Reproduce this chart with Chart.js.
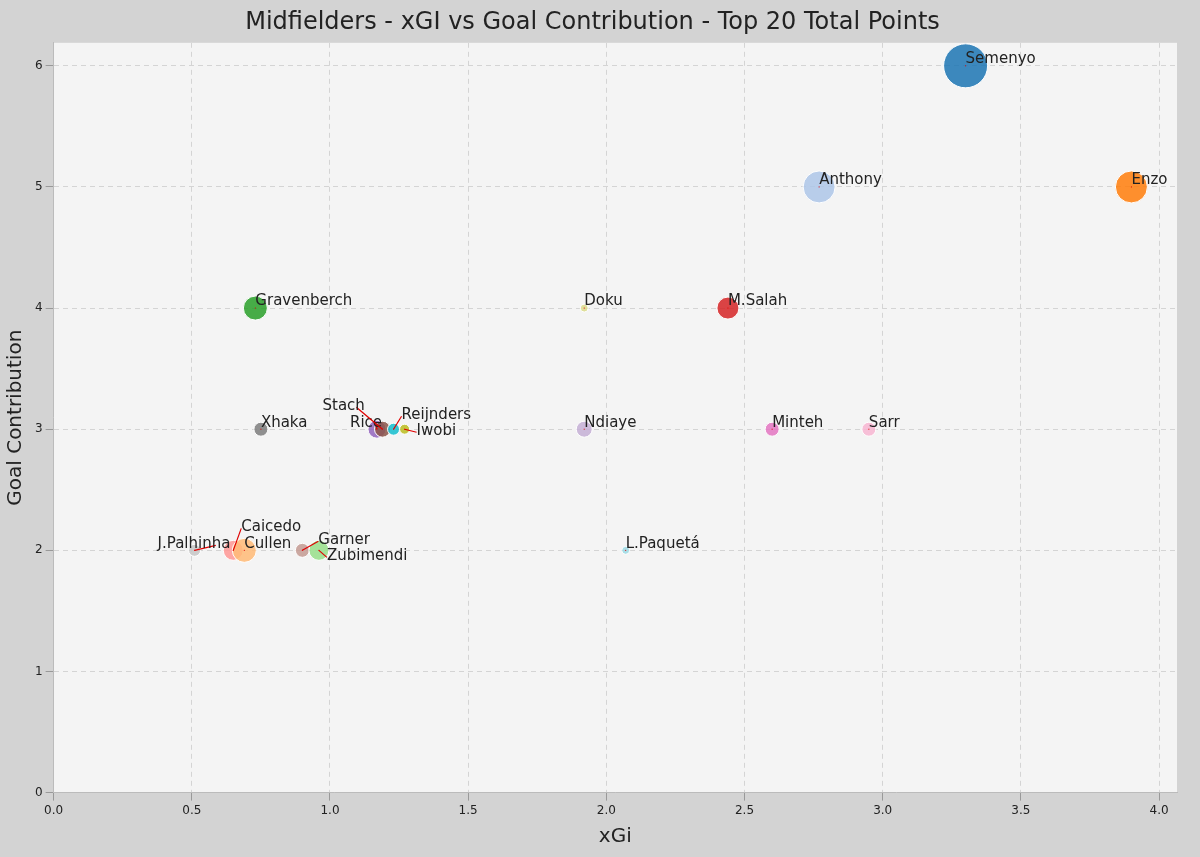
<!DOCTYPE html>
<html><head><meta charset="utf-8">
<script src="https://cdn.jsdelivr.net/npm/chart.js@4/dist/chart.umd.min.js"></script>
<style>
html,body{margin:0;background:#d3d3d3;}
#wrap{width:1200px;height:857px;}
</style></head>
<body><div id="wrap"><canvas id="c" width="1200" height="857"></canvas></div>
<script>
// Midfielders - xGI vs goal contribution
const players = ['Semenyo','Anthony','Enzo','Gravenberch','Doku','M.Salah','Xhaka','Rice','Stach','Reijnders','Iwobi','Ndiaye','Minteh','Sarr','J.Palhinha','Caicedo','Cullen','Garner','Zubimendi','L.Paquetá'];
const xgi = [3.30,2.77,3.90,0.73,1.92,2.44,0.75,1.17,1.19,1.23,1.27,1.92,2.60,2.95,0.51,0.65,0.69,0.90,0.96,2.07];
const goalContrib = [6,5,5,4,4,4,3,3,3,3,3,3,3,3,2,2,2,2,2,2];
const bubbleSize = [22,16,16,12,4,11,7,9,8,6,5,8,7,7,6,10,12,7,10,4];
const colors = ['#1f77b4','#aec7e8','#ff7f0e','#2ca02c','#dbdb8d','#d62728','#7f7f7f','#9467bd','#8c564b','#17becf','#bcbd22','#c5b0d5','#e377c2','#f7b6d2','#c7c7c7','#ff9896','#ffbb78','#c49c94','#98df8a','#9edae5'];
// label offsets in pixels (dx, dy) from the point
const labelOffsets = {Stach:[-60,-17],Rice:[-27,0],Reijnders:[8,-8],Iwobi:[12,8],Caicedo:[8,-17],'J.Palhinha':[-37,0],Garner:[16,-4],Zubimendi:[8,12]};

const labelPlugin = {
  id: 'labels',
  beforeDraw(chart) {
    const {ctx, chartArea: a} = chart;
    ctx.save();
    ctx.fillStyle = '#f4f4f4';
    ctx.fillRect(a.left, a.top, a.right - a.left, a.bottom - a.top);
    ctx.restore();
  },
  afterDatasetsDraw(chart) {
    const ctx = chart.ctx;
    const meta = chart.getDatasetMeta(0);
    ctx.save();
    ctx.font = '15px "DejaVu Sans", sans-serif';
    ctx.textAlign = 'left';
    ctx.textBaseline = 'bottom';
    meta.data.forEach((el, i) => {
      const name = players[i];
      const off = labelOffsets[name] || [0, 0];
      const tx = el.x + off[0], ty = el.y + 1 + off[1];
      if (labelOffsets[name]) {
        ctx.strokeStyle = '#e00000';
        ctx.lineWidth = 1.2;
        ctx.beginPath();
        ctx.moveTo(tx + (off[0] < 0 ? ctx.measureText(name).width * 0.8 : 0), ty - 6);
        ctx.lineTo(el.x, el.y);
        ctx.stroke();
      }
      ctx.fillStyle = '#e00000';
      ctx.fillRect(el.x - 0.5, el.y - 0.5, 1, 1);
      ctx.fillStyle = '#222';
      ctx.fillText(name, tx, ty);
    });
    ctx.restore();
  }
};

new Chart(document.getElementById('c'), {
  type: 'bubble',
  data: {
    datasets: [{
      data: xgi.map((x, i) => ({x, y: goalContrib[i], r: bubbleSize[i]})),
      backgroundColor: colors.map(c => c + 'dd'),
      borderColor: '#ffffff',
      borderWidth: 1
    }]
  },
  options: {
    responsive: false,
    animation: false,
    layout: {padding: {right: 15, top: 0, left: 0, bottom: 4}},
    plugins: {
      legend: {display: false},
      tooltip: {enabled: false},
      title: {display: true, text: 'Midfielders - xGI vs Goal Contribution - Top 20 Total Points', color: '#222', font: {size: 24, family: 'DejaVu Sans', weight: 'normal'}, padding: {top: 8, bottom: 6}}
    },
    scales: {
      x: {
        min: 0, max: 4.065,
        afterBuildTicks: ax => { ax.ticks = [0,0.5,1,1.5,2,2.5,3,3.5,4].map(v => ({value: v})); },
        ticks: {callback: v => v.toFixed(1), color: '#222', font: {size: 12, family: 'DejaVu Sans'}},
        grid: {color: '#d4d4d4', borderDash: [5,4], drawTicks: true, tickColor: '#999'},
        border: {color: '#bbb', dash: [5,4]},
        title: {display: true, text: 'xGi', color: '#222', font: {size: 20, family: 'DejaVu Sans'}}
      },
      y: {
        min: 0, max: 6.19,
        afterBuildTicks: ax => { ax.ticks = [0,1,2,3,4,5,6].map(v => ({value: v})); },
        ticks: {color: '#222', font: {size: 12, family: 'DejaVu Sans'}},
        grid: {color: '#d4d4d4', tickColor: '#999'},
        border: {color: '#bbb', dash: [5,4]},
        title: {display: true, text: 'Goal Contribution', color: '#222', font: {size: 20, family: 'DejaVu Sans'}}
      }
    }
  },
  plugins: [labelPlugin]
});
</script></body></html>
